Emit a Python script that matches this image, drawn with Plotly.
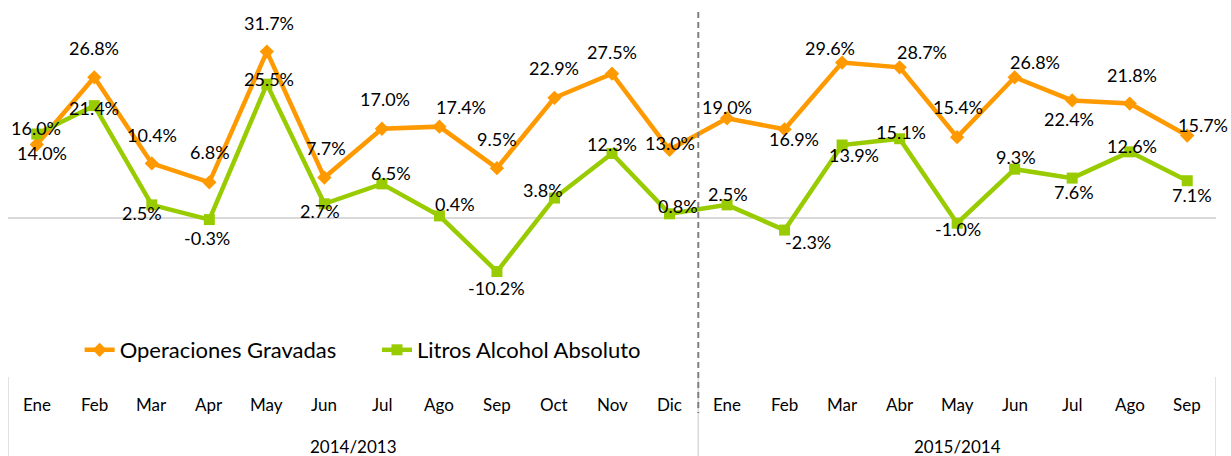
import plotly.graph_objects as go

# Month categories for the two comparison periods
meses_2014 = ["Ene", "Feb", "Mar", "Apr", "May", "Jun", "Jul", "Ago", "Sep", "Oct", "Nov", "Dic"]
meses_2015 = ["Ene", "Feb", "Mar", "Abr", "May", "Jun", "Jul", "Ago", "Sep"]
periodos = ["2014/2013", "2015/2014"]

# Year-over-year variation (%)
operaciones_gravadas = [14.0, 26.8, 10.4, 6.8, 31.7, 7.7, 17.0, 17.4, 9.5, 22.9, 27.5, 13.0,
                        19.0, 16.9, 29.6, 28.7, 15.4, 26.8, 22.4, 21.8, 15.7]
litros_alcohol = [16.0, 21.4, 2.5, -0.3, 25.5, 2.7, 6.5, 0.4, -10.2, 3.8, 12.3, 0.8,
                  2.5, -2.3, 13.9, 15.1, -1.0, 9.3, 7.6, 12.6, 7.1]

meses = meses_2014 + meses_2015
x = list(range(len(meses)))

W, H = 1231, 456
FONT = "Lato"
ORANGE = "#FF9900"
GREEN = "#99CC00"

# pixel offsets (dx, dy) of each value label relative to its point
off_og = [(5, 8), (0, -29), (0, -28), (1, -30), (2, -29), (2, -30), (3, -30), (22, -20),
          (0, -29), (0, -30), (0, -22), (0, -7), (0, -11), (9, 10), (-12, -15), (22, -15),
          (1, -30), (20, -15), (-3, 19), (2, -29), (16, -11)]
off_la = [(-1, -6), (0, 2), (-10, 8), (-2, 18), (2, -5), (-4, 7), (9, -11), (16, -12),
          (0, 16), (-11, -8), (0, -9), (8, -8), (1, -11), (23, 12), (12, 10), (1, -7),
          (1, 6), (1, -12), (2, 14), (2, -6), (5, 14)]

# vertical pixel scale of the value axis
ZERO_PX = 218
PX_PER_PCT = 5.25


def py(p):
    """Paper y coordinate for a pixel row (figure has no margins vertically)."""
    return 1 - p / H


fig = go.Figure()
fig.add_trace(go.Scatter(
    x=x, y=operaciones_gravadas, name="Operaciones Gravadas", mode="lines+markers",
    line=dict(color=ORANGE, width=4.5),
    marker=dict(symbol="diamond", size=11, color=ORANGE),
    legend="legend",
))
fig.add_trace(go.Scatter(
    x=x, y=litros_alcohol, name="Litros Alcohol Absoluto", mode="lines+markers",
    line=dict(color=GREEN, width=4.5),
    marker=dict(symbol="square", size=11, color=GREEN),
    legend="legend2",
))

annotations = []
for series, offs in ((operaciones_gravadas, off_og), (litros_alcohol, off_la)):
    for i, (v, (dx, dy)) in enumerate(zip(series, offs)):
        annotations.append(dict(
            x=i, y=v, xref="x", yref="y", text=f"{v:.1f}%", showarrow=False,
            xshift=dx, yshift=-dy, font=dict(family=FONT, size=18, color="#000000"),
        ))

# category labels
for i, m in enumerate(meses):
    annotations.append(dict(
        x=i, y=py(404), xref="x", yref="paper", text=m, showarrow=False,
        yanchor="middle", font=dict(family=FONT, size=17, color="#000000"),
    ))

# period labels centred under each group
n1 = len(meses_2014)
centros = [(-0.5 + n1 - 0.5) / 2, (n1 - 0.5 + len(meses) - 0.5) / 2]
for c, p in zip(centros, periodos):
    annotations.append(dict(
        x=c, y=py(446), xref="x", yref="paper", text=p, showarrow=False,
        yanchor="middle", font=dict(family=FONT, size=17, color="#000000"),
    ))

shapes = []
# dividers of the category table
for xv in (-0.5, n1 - 0.5, len(meses) - 0.5):
    shapes.append(dict(type="line", xref="x", yref="paper", x0=xv, x1=xv,
                       y0=py(377), y1=py(H), line=dict(color="#D9D9D9", width=1.5)))
# dashed separator between periods
shapes.append(dict(type="line", xref="x", yref="paper", x0=n1 - 0.5, x1=n1 - 0.5,
                   y0=py(12), y1=py(413), line=dict(color="#808080", width=2, dash="6px,4px")))

legend_style = dict(orientation="h", xanchor="left", y=py(350), yanchor="middle",
                    bgcolor="rgba(0,0,0,0)", font=dict(family=FONT, size=22, color="#000000"),
                    itemclick=False, itemdoubleclick=False)

fig.update_layout(
    width=W, height=H,
    margin=dict(l=8, r=15, t=0, b=0),
    paper_bgcolor="white", plot_bgcolor="white",
    font=dict(family=FONT, size=18, color="#000000"),
    xaxis=dict(range=[-0.5, len(meses) - 0.5], showgrid=False, zeroline=False,
               showticklabels=False, showline=False, fixedrange=True),
    yaxis=dict(range=[-(H - ZERO_PX) / PX_PER_PCT, ZERO_PX / PX_PER_PCT], showgrid=False,
               zeroline=True, zerolinecolor="#D9D9D9", zerolinewidth=1.5,
               showticklabels=False, showline=False, fixedrange=True),
    legend=dict(x=73 / W, **legend_style),
    legend2=dict(x=376 / W, **legend_style),
    annotations=annotations,
    shapes=shapes,
    showlegend=True,
)

fig.write_html("out.html")
